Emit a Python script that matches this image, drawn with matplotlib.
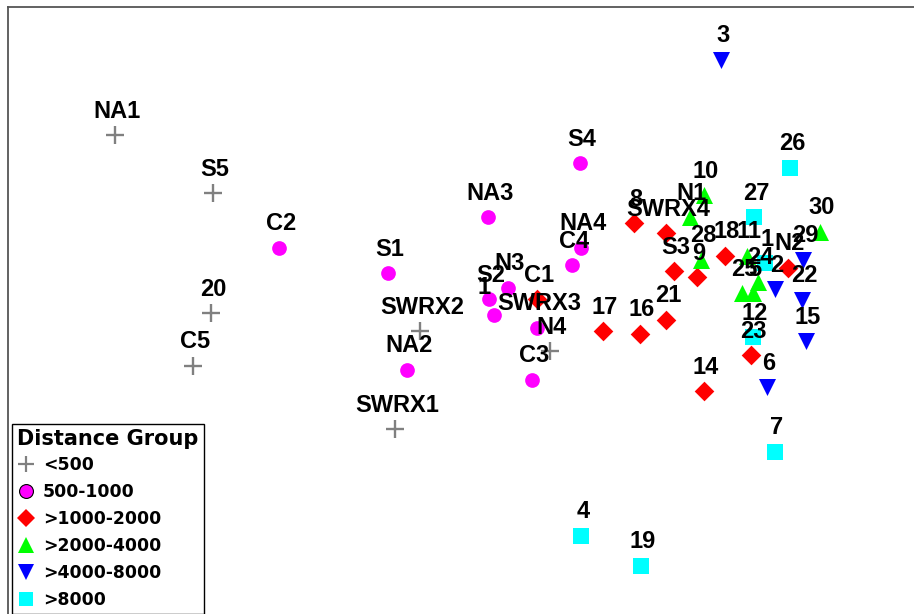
import matplotlib
matplotlib.use("Agg")
import matplotlib.pyplot as plt
from matplotlib.lines import Line2D

# ---- data (ordination scores, arbitrary units) ----
groups = ["<500", "500-1000", ">1000-2000", ">2000-4000", ">4000-8000", ">8000"]

lt500_labels = ["NA1", "S5", "20", "C5", "SWRX2", "N4", "SWRX1"]
lt500_x = [115, 213, 211, 193, 420, 550, 395]
lt500_y = [479, 421, 301, 248, 283, 263, 185]

g1000_labels = ["S4", "C2", "NA3", "S1", "NA4", "C4", "N3", "S2", "1", "SWRX3", "C3", "NA2"]
g1000_x = [580, 279, 488, 388, 581, 572, 508, 489, 494, 537, 532, 407]
g1000_y = [451, 366, 397, 341, 366, 349, 326, 315, 299, 286, 234, 244]

g2000_labels = ["8", "SWRX4", "S3", "9", "18", "17", "16", "21", "14", "23", "N2", "C1"]
g2000_x = [634, 666, 674, 697, 725, 603, 640, 666, 704, 751, 788, 537]
g2000_y = [391, 381, 343, 337, 358, 283, 280, 294, 223, 259, 346, 315]

g4000_labels = ["10", "N1", "28", "30", "11", "24", "25", "5"]
g4000_x = [704, 690, 701, 820, 747, 758, 742, 753]
g4000_y = [419, 397, 354, 382, 358, 332, 321, 321]

g8000_labels = ["3", "29", "22", "15", "2", "6"]
g8000_x = [721, 803, 802, 806, 775, 767]
g8000_y = [554, 354, 314, 273, 325, 227]

gt8000_labels = ["26", "27", "1", "12", "7", "4", "19"]
gt8000_x = [790, 754, 765, 753, 775, 581, 641]
gt8000_y = [446, 397, 351, 277, 162, 78, 48]

# ---- styles ----
series = [
    (lt500_labels, lt500_x, lt500_y, dict(marker="+", color="#808080", s=170, linewidths=1.7)),
    (g1000_labels, g1000_x, g1000_y, dict(marker="o", color="#FF00FF", s=112, linewidths=0)),
    (g2000_labels, g2000_x, g2000_y, dict(marker="D", color="#FF0000", s=100, linewidths=0)),
    (g4000_labels, g4000_x, g4000_y, dict(marker="^", color="#00FF00", s=150, linewidths=0)),
    (g8000_labels, g8000_x, g8000_y, dict(marker="v", color="#0000FF", s=150, linewidths=0)),
    (gt8000_labels, gt8000_x, gt8000_y, dict(marker="s", color="#00FFFF", s=120, linewidths=0)),
]

magenta_one_offset = (-10, 20.5)
default_offset = (2, 17.5)

W, H = 914, 614
fig = plt.figure(figsize=(W / 100, H / 100), dpi=100)
ax = fig.add_axes([8 / W, 0, 1 - 8 / W, 1 - 7 / H])
ax.set_xlim(8, 914)
ax.set_ylim(0, 607)
ax.set_xticks([])
ax.set_yticks([])
for side in ("right", "bottom"):
    ax.spines[side].set_visible(False)
for side in ("left", "top"):
    ax.spines[side].set_color("#555555")
    ax.spines[side].set_linewidth(1.3)

for labels, xs, ys, st in series:
    ax.scatter(xs, ys, zorder=3, **st)

for labels, xs, ys, st in series:
    for i, lab in enumerate(labels):
        off = magenta_one_offset if (lab == "1" and st["marker"] == "o") else default_offset
        ax.annotate(lab, (xs[i], ys[i]), xytext=off, textcoords="offset pixels",
                    ha="center", va="baseline", fontsize=17, fontweight="bold",
                    family="Liberation Sans", color="black", zorder=5)

handles = []
for (labels, xs, ys, st), g in zip(series, groups):
    m = st["marker"]
    if m == "+":
        h = Line2D([], [], linestyle="none", marker="+", color="#808080",
                   markersize=11, markeredgewidth=1.6)
    elif m == "o":
        h = Line2D([], [], linestyle="none", marker="o", markerfacecolor="#FF00FF",
                   markeredgecolor="black", markeredgewidth=0.8, markersize=10)
    else:
        ms = {"D": 9, "^": 11, "v": 11, "s": 10}[m]
        h = Line2D([], [], linestyle="none", marker=m, color=st["color"], markersize=ms,
                   markeredgewidth=0)
    handles.append(h)

leg = fig.legend(handles=handles, labels=groups, title="Distance Group",
                 loc="upper left", bbox_to_anchor=(12 / W, 1 - 424 / H),
                 bbox_transform=fig.transFigure, borderaxespad=0,
                 prop=dict(family="DejaVu Sans", weight="bold", size=12.4),
                 title_fontproperties=dict(family="DejaVu Sans", weight="bold", size=15),
                 alignment="left", frameon=True, fancybox=False, framealpha=1,
                 edgecolor="black", borderpad=0.3, handlelength=1.0,
                 handletextpad=0.5, labelspacing=0.52)
leg.get_frame().set_linewidth(1.0)
leg._legend_box.sep = 5

fig.savefig("out.png", dpi=100)
